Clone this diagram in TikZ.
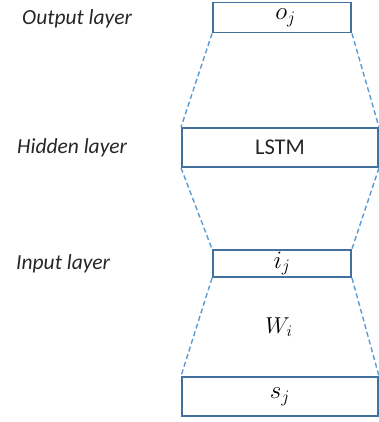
\RequirePackage{fix-cm}
\documentclass[tikz,border=0pt]{standalone}
\usepackage{fontspec}
\setmainfont{Carlito}
\definecolor{boxblue}{HTML}{41719C}
\definecolor{linkblue}{HTML}{5B9BD5}
\begin{document}
\begin{tikzpicture}[x=1pt,y=-1pt]
        \tikzstyle{every node}=[font=\fontsize{21}{25}\selectfont, inner sep=0pt]
        \tikzstyle{layer}=[draw=boxblue, line width=1.9pt, rectangle, minimum width=138pt, minimum height=30pt, font=\fontsize{25}{28}\selectfont]
        \tikzstyle{wide layer}=[layer, minimum width=196pt, minimum height=39pt]
        \tikzstyle{link}=[draw=linkblue, line width=1.4pt, dash pattern=on 5pt off 3pt]
        \tikzstyle{caption}=[anchor=west, font=\fontsize{21.5}{25}\selectfont\itshape, text=black!85]
        \useasboundingbox (0,0) rectangle (379,422);
        \node[layer] (out) at (282,17.5) {\hspace{7pt}$o_j$};
        \node[wide layer, font=\fontsize{22.5}{26}\selectfont, text=black!85] (lstm) at (280,147.5) {LSTM\hspace{15pt}};
        \node[layer, minimum height=27pt] (in) at (282,263.5) {$i_j$};
        \node[wide layer] (seq) at (280,396.5) {$s_j$};
        \node[font=\fontsize{23}{27}\selectfont] (weight) at (279,327) {$W_i$};
        \node[caption] (outlabel) at (22,19) {Output layer};
        \node[caption] (hiddenlabel) at (17,148) {Hidden layer};
        \node[caption] (inlabel) at (16,264) {Input layer};
        \draw[link] (out.south west) -- (lstm.north west);
        \draw[link] (out.south east) -- (lstm.north east);
        \draw[link] (lstm.south west) -- (in.north west);
        \draw[link] (lstm.south east) -- (in.north east);
        \draw[link] (in.south west) -- (seq.north west);
        \draw[link] (in.south east) -- (seq.north east);
    \end{tikzpicture}
\end{document}
